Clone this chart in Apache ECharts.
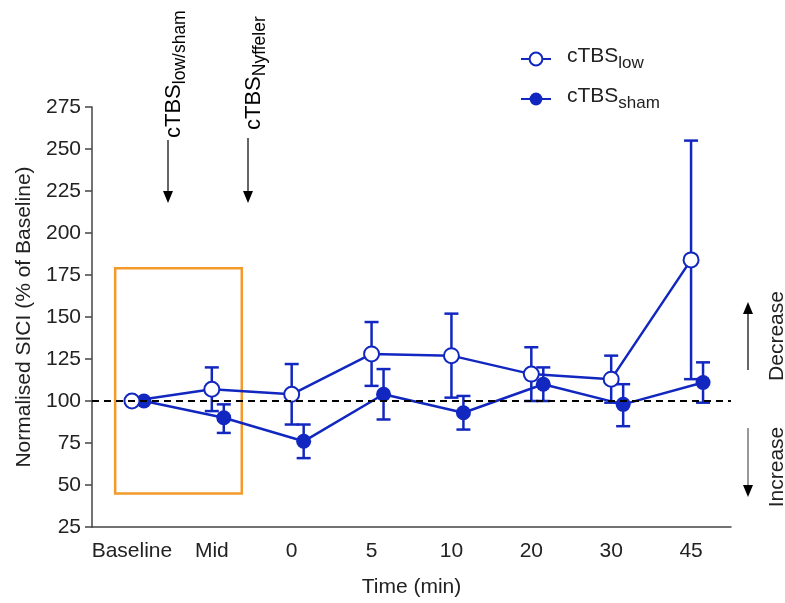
<!DOCTYPE html>
<html>
<head>
<meta charset="utf-8">
<script src="https://cdn.jsdelivr.net/npm/echarts@6/dist/echarts.min.js"></script>
<style>
  html, body { margin: 0; padding: 0; background: #fff; }
  #main { width: 785px; height: 603px; }
</style>
</head>
<body>
<div id="main"></div>
<script>
const cats = ['Baseline', 'Mid', '0', '5', '10', '20', '30', '45']
const lowMean = [100, 107, 104, 128, 127, 116, 113, 184]
const lowUpper = [100, 120, 122, 147, 152, 132, 127, 255]
const lowLower = [100, 94, 86, 109, 102, 100, 99, 113]
const shamMean = [100, 90, 76, 104, 93, 110, 98, 111]
const shamUpper = [100, 98, 86, 119, 103, 120, 110, 123]
const shamLower = [100, 81, 66, 89, 83, 100, 85, 99]

const blue = '#1227c0'
const orange = '#f39a2a'
const shamOffset = 0.15
const font = 'Liberation Sans, Arial, sans-serif'

const pts = (vals, off) => vals.map((v, i) => [i + off, v])
const bars = (lo, hi, off) => lo.map((v, i) => [i + off, v, hi[i]])

function errorBar (params, api) {
  const x = api.value(0)
  const a = api.coord([x, api.value(1)])
  const b = api.coord([x, api.value(2)])
  if (Math.abs(a[1] - b[1]) < 1) return null
  const w = 7
  const st = { stroke: blue, lineWidth: 2.5 }
  return {
    type: 'group',
    children: [
      { type: 'line', shape: { x1: a[0], y1: a[1], x2: b[0], y2: b[1] }, style: st },
      { type: 'line', shape: { x1: a[0] - w, y1: a[1], x2: a[0] + w, y2: a[1] }, style: st },
      { type: 'line', shape: { x1: b[0] - w, y1: b[1], x2: b[0] + w, y2: b[1] }, style: st }
    ]
  }
}

// main text + subscript, subscript pushed down by padding on the main part
const subRich = (big, small, left) => ({
  a: { fontSize: big, fontFamily: font, color: '#222', padding: [0, 0, 5, left], verticalAlign: 'bottom' },
  b: { fontSize: small, fontFamily: font, color: '#222', verticalAlign: 'bottom' }
})

function arrow (x, y1, y2, color) {
  const dir = y2 > y1 ? 1 : -1
  return [
    { type: 'line', shape: { x1: x, y1: y1, x2: x, y2: y2 - dir * 8 }, style: { stroke: color, lineWidth: 1.5 } },
    { type: 'polygon', shape: { points: [[x - 5, y2 - dir * 12], [x + 5, y2 - dir * 12], [x, y2]] }, style: { fill: '#000' } }
  ]
}

const chart = echarts.init(document.getElementById('main'))
chart.setOption({
  animation: false,
  grid: { left: 92, right: 54, top: 107, bottom: 71 },
  legend: {
    orient: 'vertical',
    left: 515,
    top: 41,
    itemWidth: 30,
    itemHeight: 16,
    itemGap: 14,
    data: ['low', 'sham'],
    formatter: name => '{a|cTBS}{b|' + name + '}',
    textStyle: { rich: subRich(21, 17, 11) }
  },
  xAxis: [
    {
      type: 'category',
      data: cats,
      boundaryGap: true,
      name: 'Time (min)',
      nameLocation: 'middle',
      nameGap: 50,
      nameTextStyle: { fontSize: 21, fontFamily: font, color: '#222' },
      axisLine: { lineStyle: { color: '#444', width: 1.5 } },
      axisTick: { alignWithLabel: true, length: 8, lineStyle: { color: '#444', width: 1.5 } },
      axisLabel: { interval: 0, fontSize: 21, fontFamily: font, color: '#222', margin: 14 }
    },
    { type: 'value', min: -0.5, max: 7.5, show: false }
  ],
  yAxis: {
    type: 'value',
    min: 25,
    max: 275,
    interval: 25,
    name: 'Normalised SICI (% of Baseline)',
    nameLocation: 'middle',
    nameGap: 56,
    nameTextStyle: { fontSize: 21, fontFamily: font, color: '#222' },
    axisLine: { show: true, onZero: false, lineStyle: { color: '#444', width: 1.5 } },
    axisTick: { show: true, length: 7, lineStyle: { color: '#444', width: 1.5 } },
    axisLabel: { fontSize: 21, fontFamily: font, color: '#222', margin: 11 },
    splitLine: { show: false }
  },
  series: [
    {
      type: 'custom',
      xAxisIndex: 1,
      renderItem: errorBar,
      encode: { x: 0, y: [1, 2] },
      data: bars(lowLower, lowUpper, 0),
      z: 2,
      markLine: {
        silent: true,
        symbol: 'none',
        label: { show: false },
        lineStyle: { color: '#000', width: 2, type: [7, 5] },
        data: [{ yAxis: 100 }]
      },
      markArea: {
        silent: true,
        itemStyle: { color: 'rgba(0,0,0,0)', borderColor: orange, borderWidth: 2.5 },
        data: [[{ coord: [-0.21, 179] }, { coord: [1.375, 45] }]]
      }
    },
    {
      type: 'custom',
      xAxisIndex: 1,
      renderItem: errorBar,
      encode: { x: 0, y: [1, 2] },
      data: bars(shamLower, shamUpper, shamOffset),
      z: 2
    },
    {
      name: 'low',
      type: 'line',
      xAxisIndex: 1,
      data: pts(lowMean, 0),
      symbol: 'emptyCircle',
      symbolSize: 15,
      lineStyle: { color: blue, width: 2.5 },
      itemStyle: { color: blue, borderColor: blue, borderWidth: 2.5 },
      z: 4
    },
    {
      name: 'sham',
      type: 'line',
      xAxisIndex: 1,
      data: pts(shamMean, shamOffset),
      symbol: 'circle',
      symbolSize: 15,
      lineStyle: { color: blue, width: 2.5 },
      itemStyle: { color: blue },
      z: 3
    }
  ],
  graphic: [
    {
      type: 'text', x: 176, y: 138, rotation: Math.PI / 2,
      style: { text: '{a|cTBS}{b|low/sham}', rich: subRich(22, 17.5, 0), align: 'left', verticalAlign: 'middle' }
    },
    {
      type: 'text', x: 256, y: 130, rotation: Math.PI / 2,
      style: { text: '{a|cTBS}{b|Nyffeler}', rich: subRich(22, 17.5, 0), align: 'left', verticalAlign: 'middle' }
    },
    {
      type: 'text', x: 777, y: 336, rotation: Math.PI / 2,
      style: { text: 'Decrease', font: '21px ' + font, fill: '#222', align: 'center', verticalAlign: 'middle' }
    },
    {
      type: 'text', x: 777, y: 467, rotation: Math.PI / 2,
      style: { text: 'Increase', font: '21px ' + font, fill: '#222', align: 'center', verticalAlign: 'middle' }
    },
    ...arrow(168, 140, 203, '#333'),
    ...arrow(248, 138, 203, '#333'),
    ...arrow(748, 370, 302, '#333'),
    ...arrow(748, 428, 497, '#777')
  ]
})
</script>
</body>
</html>
